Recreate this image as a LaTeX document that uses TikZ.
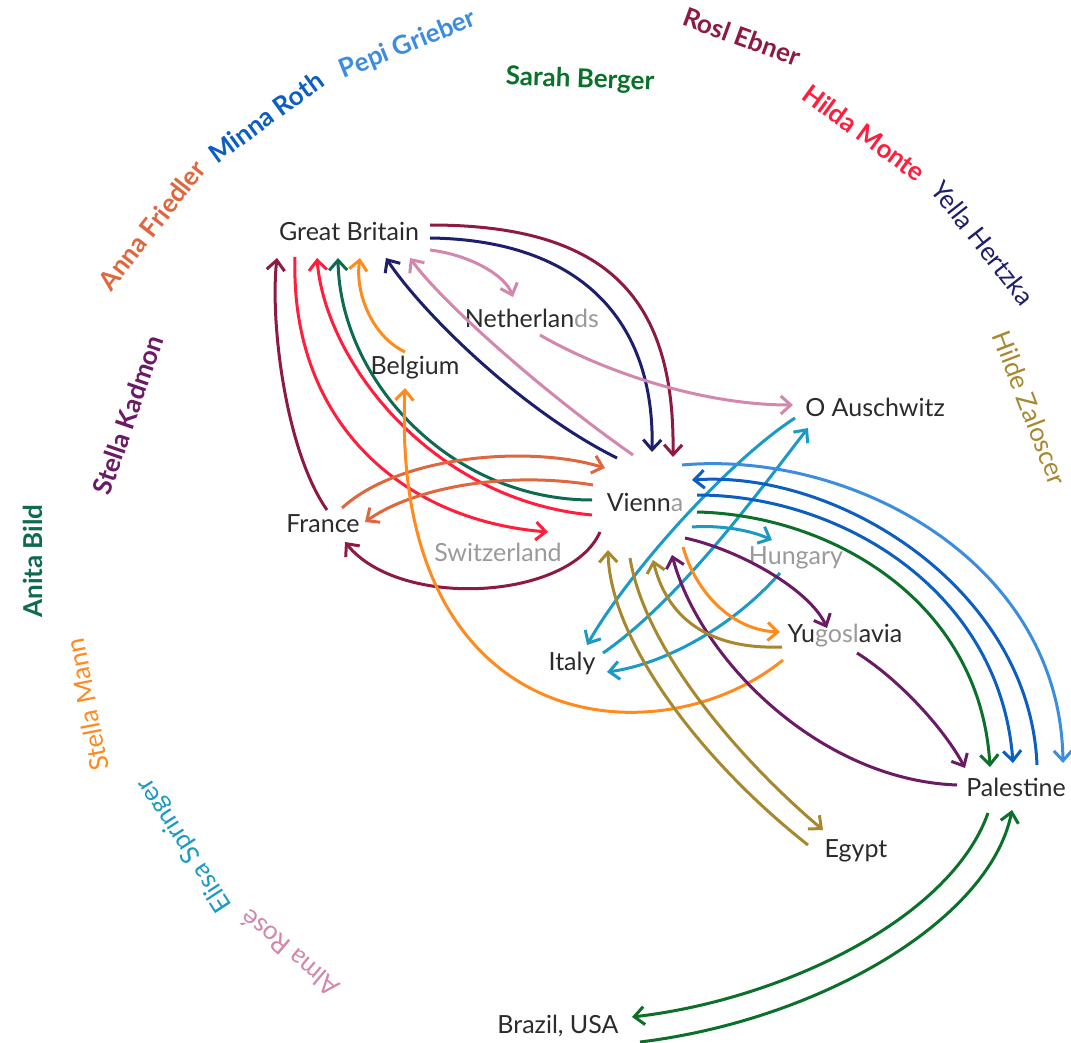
\documentclass[tikz,border=0pt]{standalone}
\usepackage{fontspec}
\setmainfont{Lato}
\usetikzlibrary{calc,arrows.meta}

\definecolor{ink}{HTML}{2B2B2B}
\definecolor{faint}{HTML}{9A9A9A}
\definecolor{ebner}{HTML}{8E1B3F}
\definecolor{monte}{HTML}{FF1E3C}
\definecolor{hertzka}{HTML}{1E1E6E}
\definecolor{zaloscer}{HTML}{A8882E}
\definecolor{berger}{HTML}{0B7029}
\definecolor{grieber}{HTML}{3C8DDE}
\definecolor{roth}{HTML}{0C5EC2}
\definecolor{friedler}{HTML}{E0663E}
\definecolor{kadmon}{HTML}{6B1A66}
\definecolor{bild}{HTML}{0E6B52}
\definecolor{mann}{HTML}{FF8A1E}
\definecolor{springer}{HTML}{1B9AC4}
\definecolor{rose}{HTML}{D386AE}

\tikzset{
  place/.style={text=ink, inner sep=1pt, font=\fontsize{12.5}{14}\selectfont},
  who/.style={inner sep=0pt, font=\fontsize{13}{15}\selectfont},
  bold/.style={font=\bfseries\fontsize{13}{15}\selectfont},
  trip/.style={line width=1.5pt, -{Straight Barb[length=5pt,width=9pt]}},
}

\begin{document}
\begin{tikzpicture}[x=0.5pt, y=-0.5pt]
	\fill[white] (0,0) rectangle (1071,1043);
	\useasboundingbox (0,0) rectangle (1071,1043);

	% women round the rim
	\node[who, bold, text=friedler, rotate=52] (anna) at (152,225) {Anna Friedler};
	\node[who, bold, text=roth, rotate=36] (minna) at (266,117) {Minna Roth};
	\node[who, bold, text=grieber, rotate=22] (pepi) at (408,45) {Pepi Grieber};
	\node[who, bold, text=berger, rotate=-2] (sarah) at (580,80) {Sarah Berger};
	\node[who, bold, text=ebner, rotate=-20] (rosl) at (742,37) {Rosl Ebner};
	\node[who, bold, text=monte, rotate=-36] (hilda) at (864,133) {Hilda Monte};
	\node[who, text=hertzka, rotate=-52] (yella) at (983,243) {Yella Hertzka};
	\node[who, text=zaloscer, rotate=-69] (hilde) at (1030,408) {Hilde Zaloscer};
	\node[who, bold, text=kadmon, rotate=71] (stellak) at (128,415) {Stella Kadmon};
	\node[who, bold, text=bild, rotate=90] (anita) at (33,561) {Anita Bild};
	\node[who, text=mann, rotate=101] (stellam) at (87,705) {Stella Mann};
	\node[who, text=springer, rotate=123] (elisa) at (185,845) {Elisa Springer};
	\node[who, text=rose, rotate=140] (alma) at (290,953) {Alma Rosé};

	% places
	\node[place] (gb) at (349,231) {Great Britain};
	\node[place] (neth) at (532,318) {Netherlan\textcolor{faint}{ds}};
	\node[place] (belg) at (415,368) {Belgium};
	\node[place] (ausch) at (875,407) {O Auschwitz};
	\node[place] (vie) at (645,502) {Vienn\textcolor{faint}{a}};
	\node[place] (fra) at (323,524) {France};
	\node[place, text=faint] (swi) at (498,552) {Switzerland};
	\node[place, text=faint] (hun) at (796,558) {Hungary};
	\node[place] (yug) at (845,636) {Yu\textcolor{faint}{gosl}avia};
	\node[place] (ita) at (572,663) {Italy};
	\node[place] (pal) at (1016,787) {Palestine};
	\node[place] (egy) at (856,851) {Egypt};
	\node[place] (bra) at (558,1026) {Brazil, USA};

	% routes
	\draw[trip, ebner] ($(gb)+(81,-6)$) .. controls (610,225) and (675,300) .. ($(vie)+(28,-45)$);
	\draw[trip, hertzka] ($(gb)+(81,7)$) .. controls (580,240) and (655,320) .. ($(vie)+(7,-50)$);
	\draw[trip, rose] ($(gb)+(81,19)$) .. controls (470,255) and (505,275) .. ($(neth)+(-19,-21)$);
	\draw[trip, rose] ($(vie)+(-12,-47)$) .. controls (540,390) and (440,300) .. ($(gb)+(61,27)$);
	\draw[trip, hertzka] ($(vie)+(-28,-44)$) .. controls (520,410) and (420,310) .. ($(gb)+(37,27)$);
	\draw[trip, mann] ($(belg)+(-10,-16)$) .. controls (370,335) and (355,290) .. ($(gb)+(11,27)$);
	\draw[trip, bild] ($(vie)+(-53,-2)$) .. controls (450,500) and (340,380) .. ($(gb)+(-11,27)$);
	\draw[trip, monte] ($(vie)+(-53,13)$) .. controls (430,500) and (325,360) .. ($(gb)+(-32,27)$);
	\draw[trip, monte] ($(gb)+(-54,26)$) .. controls (290,420) and (400,520) .. ($(swi)+(50,-20)$);
	\draw[trip, ebner] ($(fra)+(4,-14)$) .. controls (285,450) and (270,320) .. ($(gb)+(-72,27)$);
	\draw[trip, friedler] ($(fra)+(19,-16)$) .. controls (400,455) and (530,445) .. ($(vie)+(-40,-34)$);
	\draw[trip, friedler] ($(vie)+(-52,-17)$) .. controls (500,470) and (410,490) .. ($(fra)+(42,-2)$);
	\draw[trip, ebner] ($(vie)+(-45,30)$) .. controls (570,600) and (400,610) .. ($(fra)+(22,18)$);
	\draw[trip, mann] ($(yug)+(-62,24)$) .. controls (660,760) and (390,740) .. ($(belg)+(-10,20)$);
	\draw[trip, rose] ($(neth)+(8,17)$) .. controls (600,370) and (700,405) .. ($(ausch)+(-82,-2)$);
	\draw[trip, springer] ($(ausch)+(-80,11)$) .. controls (730,460) and (630,570) .. ($(ita)+(15,-18)$);
	\draw[trip, springer] ($(ita)+(31,-10)$) .. controls (680,600) and (760,490) .. ($(ausch)+(-67,21)$);
	\draw[trip, springer] ($(vie)+(47,25)$) .. controls (720,525) and (750,530) .. ($(hun)+(-24,-18)$);
	\draw[trip, springer] ($(hun)+(-16,15)$) .. controls (730,630) and (660,665) .. ($(ita)+(35,9)$);
	\draw[trip, grieber] ($(vie)+(37,-37)$) .. controls (850,450) and (1060,560) .. ($(pal)+(47,-24)$);
	\draw[trip, roth] ($(pal)+(21,-22)$) .. controls (1030,590) and (840,470) .. ($(vie)+(47,-22)$);
	\draw[trip, roth] ($(vie)+(52,-7)$) .. controls (840,495) and (1000,590) .. ($(pal)+(-3,-24)$);
	\draw[trip, berger] ($(vie)+(52,10)$) .. controls (830,515) and (980,600) .. ($(pal)+(-26,-20)$);
	\draw[trip, kadmon] ($(vie)+(40,36)$) .. controls (740,550) and (810,590) .. ($(yug)+(-18,-8)$);
	\draw[trip, mann] ($(vie)+(38,45)$) .. controls (695,590) and (730,630) .. ($(yug)+(-65,-4)$);
	\draw[trip, kadmon] ($(yug)+(12,17)$) .. controls (900,680) and (945,730) .. ($(pal)+(-51,-19)$);
	\draw[trip, kadmon] ($(pal)+(-59,-2)$) .. controls (820,780) and (700,660) .. ($(vie)+(27,53)$);
	\draw[trip, zaloscer] ($(yug)+(-63,11)$) .. controls (700,650) and (665,610) .. ($(vie)+(8,58)$);
	\draw[trip, zaloscer] ($(egy)+(-48,-6)$) .. controls (700,760) and (610,640) .. ($(vie)+(-37,48)$);
	\draw[trip, zaloscer] ($(vie)+(-15,56)$) .. controls (645,650) and (740,760) .. ($(egy)+(-33,-21)$);
	\draw[trip, berger] ($(pal)+(-28,26)$) .. controls (950,920) and (780,1000) .. ($(bra)+(74,-9)$);
	\draw[trip, berger] ($(bra)+(82,16)$) .. controls (820,1020) and (990,920) .. ($(pal)+(-4,23)$);
\end{tikzpicture}
\end{document}
